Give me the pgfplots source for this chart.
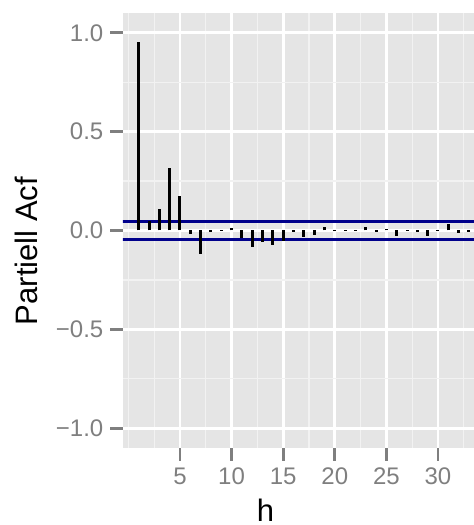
\documentclass[border=0pt]{standalone}
\usepackage{pgfplots}
\pgfplotsset{compat=1.18}
\usepackage{fontspec}
\setmainfont{Liberation Sans}
\definecolor{panelbg}{HTML}{E5E5E5}
\definecolor{minorgrid}{HTML}{F2F2F2}
\definecolor{ticklab}{HTML}{7F7F7F}
\definecolor{dblue}{HTML}{00008B}
\begin{document}
\begin{tikzpicture}
\begin{axis}[
 name=ax,
 scale only axis, width=175.5pt, height=217.5pt,
 xmin=-0.52, xmax=33.49, ymin=-1.1, ymax=1.1,
 axis background/.style={fill=panelbg},
 axis line style={draw=none},
 xtick={5,10,15,20,25,30}, ytick={-1,-0.5,0,0.5,1},
 yticklabels={−1.0,−0.5,0.0,0.5,1.0},
 minor xtick={0,2.5,7.5,12.5,17.5,22.5,27.5,32.5},
 minor ytick={-0.75,-0.25,0.25,0.75},
 grid=both,
 major grid style={white, line width=1.35pt},
 minor grid style={minorgrid, line width=0.65pt},
 tick align=outside, xtick pos=bottom, ytick pos=left,
 major tick length=6.3pt, minor tick length=0pt,
 major tick style={ticklab, line width=1.35pt},
 tick label style={font=\fontsize{12}{12}\selectfont, text=ticklab},
 /pgf/number format/assume math mode=true,
 xlabel={h}, ylabel={Partiell Acf},
 label style={font=\fontsize{15.5}{16}\selectfont},
 xlabel style={at={(axis description cs:0.406,-0.170)}, anchor=base},
 ylabel style={at={(axis description cs:-0.245,0.453)}, anchor=base},
]
\addplot[dblue, line width=1.5pt] coordinates {(-1,0.043) (35,0.043)};
\addplot[dblue, line width=1.5pt] coordinates {(-1,-0.043) (35,-0.043)};
\addplot[ycomb, black, line width=1.5pt, mark=none] table {
x y
1 0.952
2 0.050
3 0.111
4 0.314
5 0.176
6 -0.018
7 -0.118
8 -0.006
9 0.002
10 0.015
11 -0.039
12 -0.081
13 -0.057
14 -0.074
15 -0.053
16 -0.010
17 -0.035
18 -0.025
19 0.020
20 -0.005
21 0.003
22 0.002
23 0.017
24 -0.008
25 0.006
26 -0.027
27 0.002
28 -0.007
29 -0.030
30 0.002
31 0.032
32 -0.012
33 -0.007
};
\end{axis}
\pgfresetboundingbox
\path ([xshift=-61.5pt,yshift=-38.5pt]ax.south west) rectangle ([yshift=6.5pt]ax.north east);
\end{tikzpicture}
\end{document}
